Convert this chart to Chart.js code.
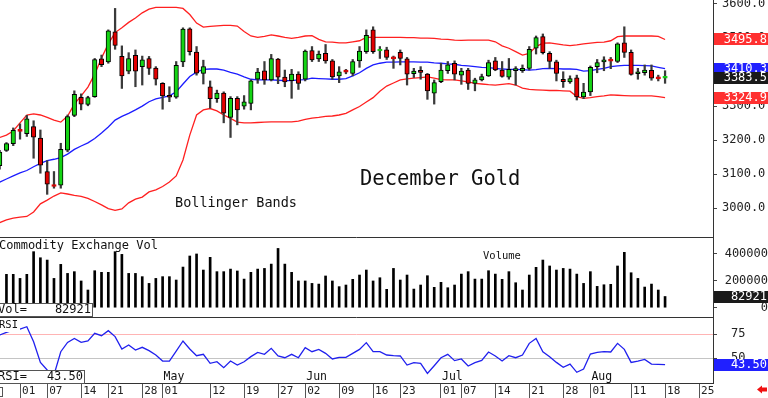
<!DOCTYPE html>
<html lang="en">
<head>
  <meta charset="UTF-8" />
  <title>December Gold</title>
  <script src="https://cdn.jsdelivr.net/npm/chart.js"></script>
  <style>
    body { margin: 0; background: #fff; }
    #wrap { width: 768px; height: 398px; }
  </style>
</head>
<body>
  <div id="wrap"><canvas id="gold" width="768" height="398"></canvas></div>

  <script>
    // trading-day index of the first bar (Apr 01 = 0)
    const firstIdx = -3;

    const opens = [
      3125, 3170, 3190, 3229, 3219, 3240, 3206, 3108, 3067, 3068,
      3171, 3273, 3326, 3305, 3328, 3439, 3430, 3518, 3446, 3403,
      3449, 3416, 3440, 3412, 3367, 3330, 3326, 3430, 3527, 3459,
      3396, 3357, 3322, 3338, 3267, 3323, 3300, 3308, 3379, 3404,
      3377, 3438, 3385, 3375, 3394, 3379, 3463, 3439, 3455, 3433,
      3389, 3402, 3396, 3433, 3460, 3524, 3462, 3465, 3441, 3458,
      3439, 3395, 3404, 3394, 3338, 3372, 3404, 3426, 3391, 3406,
      3367, 3377, 3389, 3433, 3406, 3385, 3404, 3404, 3411, 3470,
      3504, 3455, 3430, 3379, 3371, 3383, 3327, 3342, 3416, 3430,
      3434, 3431, 3486, 3458, 3395, 3398, 3405, 3382, 3382
    ];
    const highs = [
      3170, 3193, 3236, 3248, 3273, 3257, 3230, 3140, 3108, 3191,
      3274, 3345, 3336, 3329, 3440, 3450, 3524, 3587, 3477, 3457,
      3465, 3447, 3446, 3416, 3369, 3357, 3431, 3530, 3530, 3475,
      3435, 3374, 3347, 3342, 3328, 3328, 3331, 3377, 3411, 3431,
      3452, 3440, 3406, 3408, 3401, 3465, 3475, 3462, 3481, 3437,
      3416, 3408, 3437, 3475, 3524, 3533, 3475, 3473, 3447, 3465,
      3443, 3411, 3416, 3396, 3377, 3426, 3431, 3433, 3411, 3411,
      3382, 3394, 3435, 3443, 3431, 3440, 3416, 3421, 3475, 3506,
      3512, 3460, 3435, 3401, 3389, 3391, 3367, 3418, 3437, 3445,
      3443, 3486, 3533, 3465, 3411, 3421, 3421, 3391, 3404
    ];
    const lows = [
      3115, 3167, 3184, 3203, 3211, 3147, 3103, 3041, 3059, 3059,
      3166, 3269, 3289, 3301, 3326, 3416, 3426, 3467, 3352, 3395,
      3357, 3362, 3393, 3362, 3291, 3313, 3323, 3416, 3450, 3391,
      3365, 3294, 3311, 3251, 3208, 3245, 3291, 3289, 3367, 3364,
      3374, 3366, 3357, 3323, 3349, 3374, 3431, 3431, 3426, 3379,
      3369, 3395, 3389, 3414, 3455, 3455, 3440, 3437, 3411, 3421,
      3362, 3384, 3379, 3320, 3306, 3369, 3396, 3377, 3364, 3349,
      3345, 3374, 3387, 3404, 3385, 3379, 3362, 3399, 3406, 3453,
      3453, 3411, 3374, 3355, 3367, 3318, 3322, 3331, 3398, 3404,
      3410, 3428, 3443, 3391, 3379, 3391, 3376, 3374, 3367
    ];
    const closes = [
      3165, 3190, 3229, 3226, 3263, 3209, 3127, 3071, 3064, 3173,
      3269, 3335, 3306, 3325, 3437, 3422, 3521, 3478, 3389, 3440,
      3403, 3436, 3411, 3379, 3330, 3326, 3420, 3526, 3460, 3397,
      3416, 3322, 3338, 3279, 3323, 3289, 3313, 3374, 3400, 3377,
      3440, 3385, 3371, 3394, 3367, 3462, 3436, 3453, 3433, 3386,
      3401, 3400, 3431, 3462, 3508, 3460, 3464, 3443, 3439, 3440,
      3394, 3403, 3399, 3345, 3369, 3406, 3421, 3394, 3403, 3367,
      3377, 3387, 3428, 3406, 3387, 3408, 3410, 3411, 3467, 3501,
      3457, 3431, 3396, 3372, 3381, 3327, 3341, 3414, 3428, 3436,
      3432, 3483, 3458, 3393, 3399, 3406, 3382, 3380, 3383.5
    ];

    const upperBand = [
      3208, 3215, 3227, 3251, 3274, 3277, 3274, 3267, 3259, 3253,
      3271, 3306, 3330, 3356, 3394, 3441, 3483, 3516, 3530, 3546,
      3559, 3574, 3585, 3590, 3590, 3590, 3590, 3587, 3569, 3544,
      3532, 3534, 3536, 3537, 3537, 3535, 3519, 3506, 3502, 3505,
      3509, 3506, 3502, 3499, 3502, 3506, 3507, 3496, 3489, 3488,
      3486, 3486, 3489, 3492, 3502, 3502, 3502, 3502, 3502, 3502,
      3501, 3501, 3500, 3500, 3499, 3497, 3496, 3494, 3493, 3494,
      3494, 3494, 3494, 3489, 3477, 3470, 3460, 3450, 3455, 3475,
      3485, 3486, 3483, 3480, 3478, 3480, 3483, 3485, 3487, 3488,
      3492, 3504, 3506, 3506, 3506, 3506, 3506, 3505, 3495.8
    ];
    const midBand = [
      3077, 3086, 3095, 3104, 3111, 3122, 3132, 3140, 3144, 3149,
      3159, 3173, 3183, 3192, 3205, 3221, 3239, 3259, 3270, 3279,
      3289, 3300, 3313, 3321, 3326, 3330, 3342, 3365, 3387, 3400,
      3408, 3409, 3409, 3406, 3399, 3394, 3386, 3379, 3377, 3377,
      3377, 3376, 3375, 3375, 3377, 3378, 3382, 3381, 3380, 3379,
      3379, 3381, 3389, 3398, 3411, 3421, 3426, 3429, 3429, 3430,
      3430, 3430, 3429, 3429, 3427, 3426, 3424, 3423, 3420, 3418,
      3416, 3414, 3413, 3411, 3409, 3408, 3408, 3407, 3406, 3407,
      3410, 3411, 3410, 3409, 3409, 3408, 3403, 3404, 3408, 3411,
      3416, 3418, 3420, 3420, 3420, 3419, 3418, 3414, 3410.3
    ];
    const lowerBand = [
      2958, 2966, 2971, 2974, 2976, 2989, 3013, 3024, 3036, 3045,
      3042, 3038, 3035, 3029, 3020, 3010, 2999, 2994, 2998, 3016,
      3027, 3033, 3048, 3054, 3064, 3077, 3095, 3142, 3215, 3274,
      3289, 3293, 3286, 3274, 3264, 3253, 3251, 3251, 3252, 3253,
      3254, 3254, 3254, 3254, 3256, 3261, 3265, 3267, 3270, 3271,
      3274, 3279, 3289, 3299, 3312, 3325, 3344, 3359, 3368, 3377,
      3380, 3382, 3384, 3386, 3382, 3378, 3377, 3377, 3374, 3371,
      3367, 3365, 3363, 3362, 3364, 3366, 3362, 3353, 3349, 3348,
      3347, 3346, 3346, 3345, 3344, 3328, 3323, 3325, 3328, 3330,
      3333, 3332, 3331, 3330, 3330, 3330, 3330, 3328, 3324.9
    ];

    const volumes = [
      null, 247000, 247000, 217000, 247000, 415000, 370000, 353000, 217000, 321000,
      254000, 267000, 198000, 131000, 274000, 262000, 262000, 415000, 395000, 254000,
      254000, 230000, 180000, 217000, 230000, 230000, 205000, 301000, 383000, 398000,
      279000, 373000, 267000, 267000, 286000, 272000, 212000, 262000, 286000, 291000,
      323000, 439000, 323000, 262000, 198000, 198000, 180000, 175000, 235000, 198000,
      156000, 168000, 210000, 242000, 279000, 198000, 222000, 136000, 291000, 205000,
      242000, 138000, 168000, 237000, 151000, 188000, 148000, 168000, 249000, 267000,
      212000, 212000, 274000, 249000, 210000, 267000, 185000, 131000, 242000, 299000,
      353000, 309000, 279000, 291000, 286000, 249000, 180000, 267000, 158000, 170000,
      173000, 309000, 410000, 259000, 217000, 153000, 175000, 131000, 82921
    ];

    const rsiValues = [
      74, 76.7, 79.1, 80.1, 82.5, 67.1, 45.8, 38, 32.8, 56.8,
      66.4, 70.5, 66.4, 67.8, 75.7, 73.3, 78.4, 72.3, 59.6, 63.7,
      58.5, 61.3, 57.9, 53.4, 47.2, 47.2, 57.5, 67.8, 59.6, 52.7,
      54.1, 44.8, 46.5, 40.4, 47.2, 43.1, 46.5, 51.7, 56.1, 54.1,
      60.3, 52.4, 50.6, 54.1, 50.6, 60.9, 56.8, 59.2, 55.1, 49.3,
      51, 51, 55.1, 59.2, 66.1, 56.8, 56.8, 53.4, 52.7, 52.4,
      43.1, 45.5, 44.8, 34.5, 42.4, 50.6, 54.1, 47.6, 49.3, 42.1,
      45.5, 47.9, 56.5, 52.4, 47.2, 52.7, 50.6, 53.4, 65.4, 70.5,
      56.8, 51.7, 45.8, 40.7, 44.1, 35.6, 39, 54.4, 56.1, 56.8,
      56.5, 65.4, 59.2, 45.8, 47.2, 48.9, 44.1, 43.8, 43.5
    ];

    // axis ticks
    const xTickIdx = [0, 4, 9, 13, 18, 21, 28, 33, 38, 42, 47, 52, 56, 62, 65, 70, 75, 80, 84, 90, 95, 100];
    const xTickLabels = ['01', '07', '14', '21', '28', '01', '12', '19', '27', '02', '09', '16', '23',
                         '01', '07', '14', '21', '28', '01', '11', '18', '25'];
    const monthIdx = [21, 42, 62, 84];
    const monthNames = ['May', 'Jun', 'Jul', 'Aug'];
    const priceTicks = [3000, 3050, 3100, 3150, 3200, 3250, 3300, 3350, 3400, 3450, 3500, 3550, 3600];
    const volTicks = [0, 100000, 200000, 300000, 400000];
    const rsiTicks = [50, 75];

    const MONO = 'DejaVu Sans Mono';
    Chart.defaults.font.family = MONO;
    Chart.defaults.color = '#222';

    const idx = opens.map((_, k) => k + firstIdx);
    const GREEN = '#14d414', RED = '#e20000';
    const bodyFill = idx.map((_, k) => closes[k] >= opens[k] ? GREEN : RED);
    const bodyEdge = idx.map((_, k) => Math.abs(closes[k] - opens[k]) < 4 ? bodyFill[k] : '#000');

    function fixWidth(scale) {
      scale.width = 55;
      scale.paddingTop = 0;
      scale.paddingBottom = 0;
    }

    const last = closes.length - 1;

    const decor = {
      id: 'decor',
      afterDraw(chart) {
        const { ctx, chartArea: area, scales } = chart;
        const { x, y, yVol, yRsi } = scales;
        ctx.save();

        // panel separators
        ctx.strokeStyle = '#333';
        ctx.lineWidth = 1;
        [y.bottom, yVol.bottom].forEach(p => {
          const py = Math.round(p) + 0.5;
          ctx.beginPath(); ctx.moveTo(0, py); ctx.lineTo(area.right, py); ctx.stroke();
        });

        // texts in the panels
        ctx.fillStyle = '#111';
        ctx.textAlign = 'left';
        ctx.textBaseline = 'middle';
        ctx.font = '20.5px ' + MONO;
        ctx.fillText('December Gold', 360, 180);
        ctx.font = '13.5px ' + MONO;
        ctx.fillText('Bollinger Bands', 175, 203.5);
        ctx.font = '12px ' + MONO;
        ctx.fillText('Commodity Exchange Vol', -1, 245.5);
        ctx.font = '10.5px ' + MONO;
        ctx.fillText('Volume', 483, 256);
        ctx.font = '11.5px ' + MONO;
        monthIdx.forEach((m, k) => ctx.fillText(monthNames[k], x.getPixelForValue(m) + 1, yRsi.bottom - 5.5));

        // RSI caption
        ctx.fillStyle = '#fff';
        ctx.fillRect(0, yRsi.top + 2, 20, 13);
        ctx.fillStyle = '#111';
        ctx.font = '10.5px ' + MONO;
        ctx.fillText('RSI', -1, yRsi.top + 8.5);

        // left value boxes
        function leftBox(top, w, name, val) {
          ctx.fillStyle = '#fff';
          ctx.fillRect(0, top, w, 13);
          ctx.strokeStyle = '#555';
          ctx.strokeRect(-0.5, top + 0.5, w, 13);
          ctx.fillStyle = '#111';
          ctx.font = '12px ' + MONO;
          ctx.textAlign = 'left';
          ctx.fillText(name, -2, top + 7);
          ctx.textAlign = 'right';
          ctx.fillText(val, w - 2, top + 7);
        }
        leftBox(yVol.bottom - 14, 93, 'Vol=', String(volumes[last]));
        leftBox(yRsi.bottom - 13, 85, 'RSI=', rsiValues[last].toFixed(2));

        // right value tags
        function tag(scale, val, bg, txt) {
          const py = scale.getPixelForValue(val);
          ctx.fillStyle = bg;
          ctx.fillRect(area.right + 1, Math.round(py - 6), 55, 12);
          ctx.fillStyle = '#fff';
          ctx.font = '12px ' + MONO;
          ctx.textAlign = 'right';
          ctx.fillText(txt, 767, py + 0.5);
        }
        tag(y, upperBand[last], '#ff3030', upperBand[last].toFixed(1));
        tag(y, midBand[last], '#2020ff', midBand[last].toFixed(1));
        tag(y, closes[last], '#1a1a1a', closes[last].toFixed(1));
        tag(y, lowerBand[last], '#ff3030', lowerBand[last].toFixed(1));
        tag(yVol, volumes[last], '#1a1a1a', String(volumes[last]));
        tag(yRsi, rsiValues[last], '#2020ff', rsiValues[last].toFixed(2));

        // little marks in the date row
        ctx.strokeStyle = '#555';
        ctx.strokeRect(-4.5, 387.5, 7, 9);
        ctx.fillStyle = '#f01010';
        ctx.beginPath();
        ctx.moveTo(757, 389.5); ctx.lineTo(762, 385.5); ctx.lineTo(762, 387.5);
        ctx.lineTo(767, 387.5); ctx.lineTo(767, 391.5); ctx.lineTo(762, 391.5);
        ctx.lineTo(762, 393.5); ctx.closePath(); ctx.fill();

        ctx.restore();
      }
    };

    new Chart(document.getElementById('gold'), {
      type: 'line',
      data: {
        datasets: [
          {
            type: 'bar', label: 'body', yAxisID: 'y', order: 0, grouped: false,
            data: idx.map((i, k) => ({ x: i, y: [opens[k], closes[k]] })),
            backgroundColor: bodyFill, borderColor: bodyEdge, borderWidth: 1,
            borderSkipped: false, barThickness: 4.5, minBarLength: 2
          },
          {
            type: 'bar', label: 'wick', yAxisID: 'y', order: 1, grouped: false,
            data: idx.map((i, k) => ({ x: i, y: [lows[k], highs[k]] })),
            backgroundColor: '#3a3a3a', barThickness: 1.6
          },
          {
            label: 'upper', yAxisID: 'y', order: 2,
            data: idx.map((i, k) => ({ x: i, y: upperBand[k] })),
            borderColor: '#ff2020', borderWidth: 1.3, pointRadius: 0, tension: 0
          },
          {
            label: 'mid', yAxisID: 'y', order: 2,
            data: idx.map((i, k) => ({ x: i, y: midBand[k] })),
            borderColor: '#1c1cff', borderWidth: 1.3, pointRadius: 0, tension: 0
          },
          {
            label: 'lower', yAxisID: 'y', order: 2,
            data: idx.map((i, k) => ({ x: i, y: lowerBand[k] })),
            borderColor: '#ff2020', borderWidth: 1.3, pointRadius: 0, tension: 0
          },
          {
            type: 'bar', label: 'Volume', yAxisID: 'yVol', order: 3, grouped: false,
            data: idx.map((i, k) => ({ x: i, y: volumes[k] })),
            backgroundColor: '#000', barThickness: 2
          },
          {
            label: 'RSI', yAxisID: 'yRsi', order: 3,
            data: idx.map((i, k) => ({ x: i, y: rsiValues[k] })),
            borderColor: '#2020ee', borderWidth: 1.3, pointRadius: 0, tension: 0
          }
        ]
      },
      options: {
        responsive: false,
        animation: false,
        devicePixelRatio: 1,
        layout: { padding: 0 },
        plugins: { legend: { display: false }, tooltip: { enabled: false } },
        scales: {
          x: {
            type: 'linear', position: 'bottom', offset: false,
            min: -2.95, max: 102.06,
            afterBuildTicks: s => { s.ticks = xTickIdx.map(v => ({ value: v })); },
            afterFit: s => { s.height = 15; s.paddingLeft = 0; s.paddingRight = 0; },
            ticks: {
              autoSkip: false, maxRotation: 0, align: 'start', labelOffset: 2, padding: -13,
              font: { size: 11 }, color: '#222',
              callback: (v, k) => xTickLabels[k]
            },
            grid: { drawOnChartArea: false, drawTicks: true, tickLength: 15, color: '#555', offset: false },
            border: { display: true, color: '#333' }
          },
          y: {
            type: 'linear', position: 'right', stack: 'panels', stackWeight: 237,
            min: 2915.7, max: 3611.7,
            afterBuildTicks: s => { s.ticks = priceTicks.map(v => ({ value: v })); },
            afterFit: fixWidth,
            ticks: {
              crossAlign: 'near', padding: 5, font: { size: 12 }, color: '#222',
              callback: v => (v % 100 === 0 ? v.toFixed(1) : '')
            },
            grid: { drawOnChartArea: false, tickLength: 4, color: '#444' },
            border: { display: true, color: '#333' }
          },
          yVol: {
            type: 'linear', position: 'right', stack: 'panels', stackWeight: 80,
            min: -68900, max: 523700,
            afterBuildTicks: s => { s.ticks = volTicks.map(v => ({ value: v })); },
            afterFit: fixWidth,
            ticks: {
              crossAlign: 'far', padding: 5, font: { size: 12 }, color: '#222',
              callback: v => (v % 200000 === 0 ? String(v) : '')
            },
            grid: { drawOnChartArea: false, tickLength: 4, color: '#444' },
            border: { display: true, color: '#333' }
          },
          yRsi: {
            type: 'linear', position: 'right', stack: 'panels', stackWeight: 66,
            min: 24.6, max: 92.5,
            afterBuildTicks: s => { s.ticks = rsiTicks.map(v => ({ value: v })); },
            afterFit: fixWidth,
            ticks: { crossAlign: 'near', padding: 14, font: { size: 12 }, color: '#222' },
            grid: {
              drawOnChartArea: true, tickLength: 4, tickColor: '#444',
              color: c => (c.tick && c.tick.value === 75 ? '#ffb4b4' : '#c4c4c4')
            },
            border: { display: true, color: '#333' }
          }
        }
      },
      plugins: [decor]
    });
  </script>
</body>
</html>
